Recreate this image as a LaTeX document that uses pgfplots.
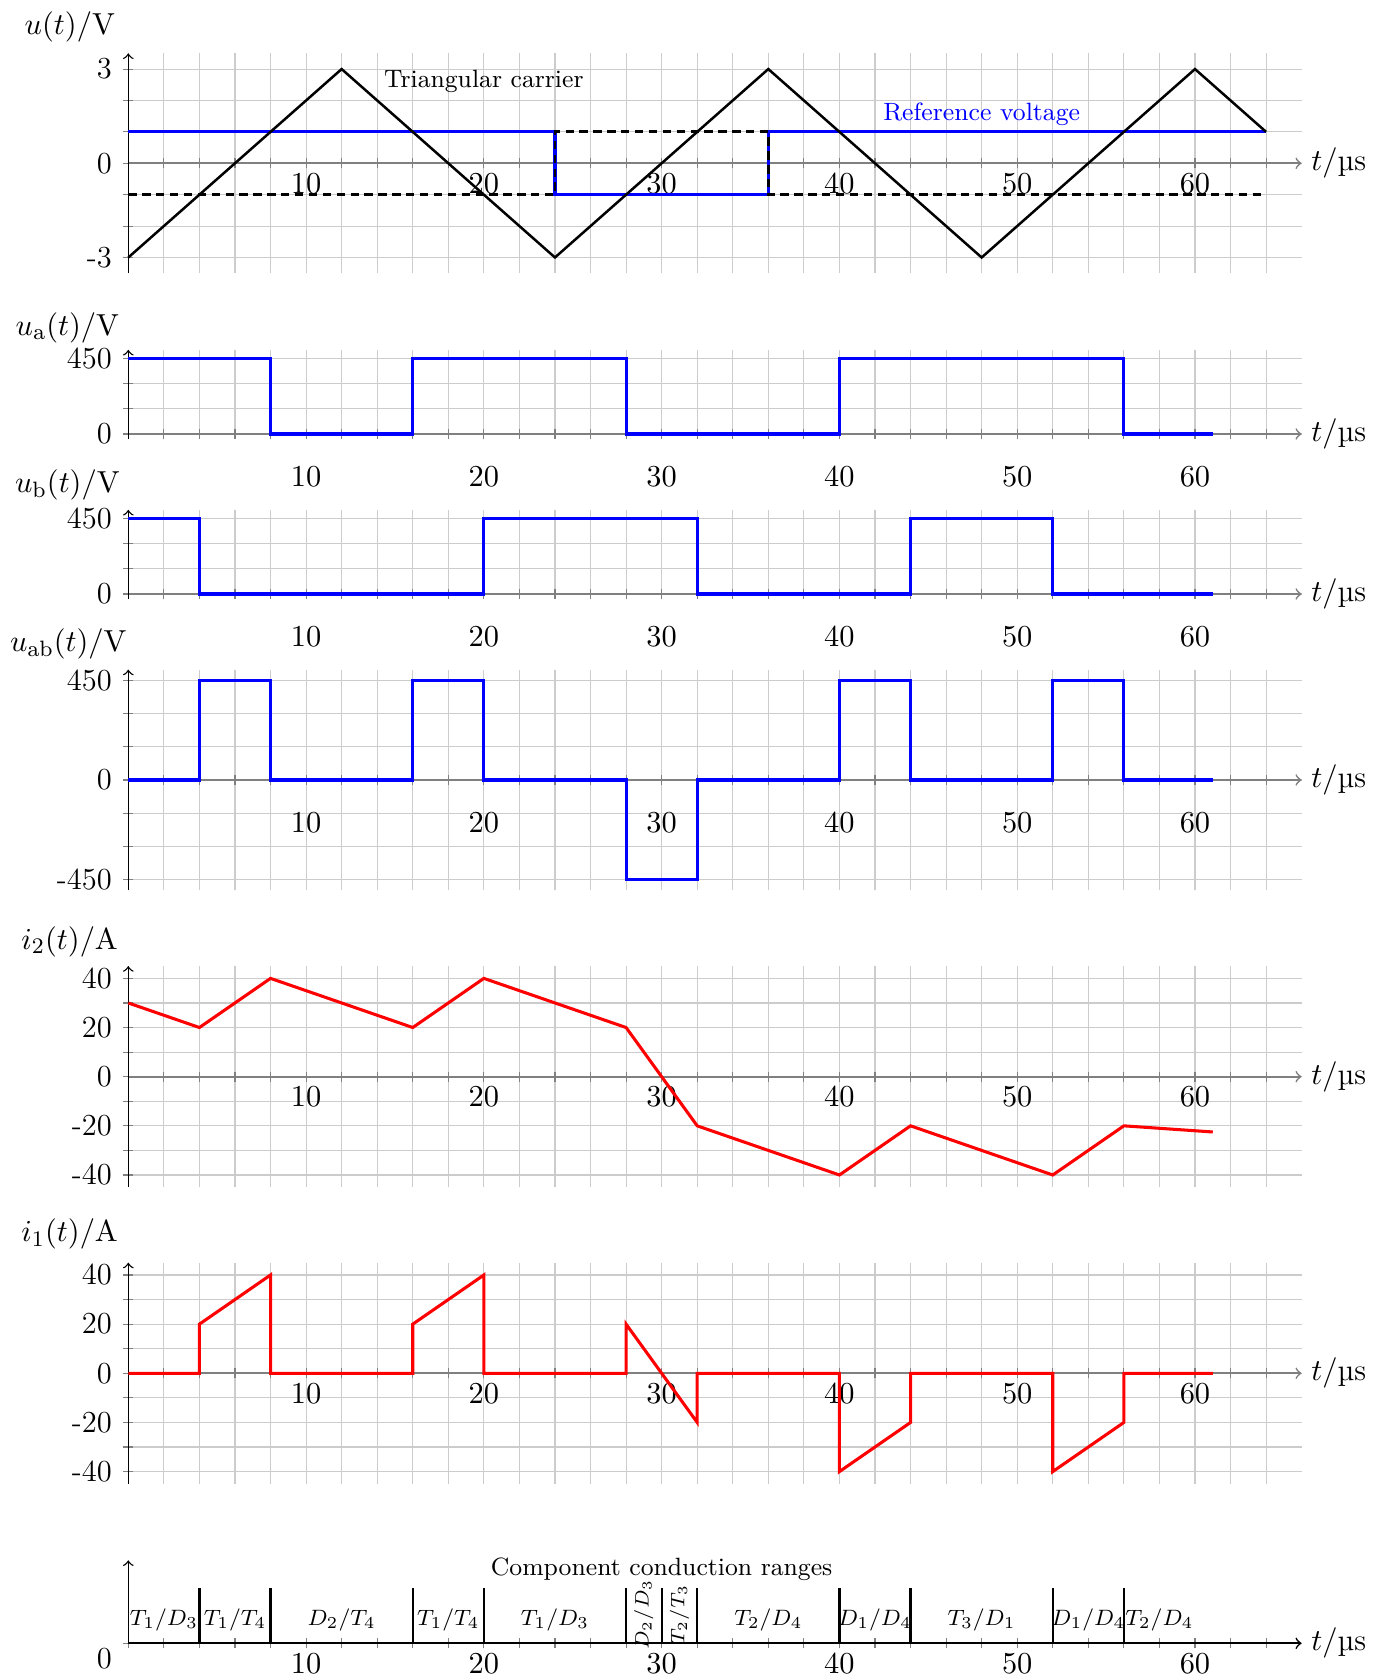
\documentclass[border=0pt]{standalone}
\usepackage{pgfplots}
\pgfplotsset{compat=1.18}
\newcommand{\tlfont}{\fontsize{11}{13}\selectfont}
\pgfplotsset{
  panel/.style={
    axis lines=middle,
    x=6.4pt,
    xmin=0, xmax=66,
    x axis line style={gray, line width=0.6pt, ->},
    y axis line style={black, line width=0.5pt, ->},
    xtick={10,20,...,60},
    minor xtick={0,2,...,64},
    hide obscured x ticks=false,
    hide obscured y ticks=false,
    tick align=center,
    major tick length=3.6pt, minor tick length=3.6pt,
    every tick/.style={gray, line width=0.4pt},
    every minor tick/.style={gray, line width=0.4pt},
    grid=both,
    major grid style={draw=none},
    minor grid style={gray!40, line width=0.4pt},
    ticklabel style={font=\tlfont},
    yticklabel style={anchor=east, xshift=-0.6pt},
    xlabel={$t/$µs},
    xlabel style={font=\tlfont, anchor=west},
    ylabel style={font=\tlfont, rotate=0, anchor=center},
    clip=false,
    anchor=origin,
  },
  labnear/.style={xticklabel style={anchor=center, yshift=-5.5pt}},
  labfar/.style={xticklabel style={anchor=center, yshift=-13.7pt}},
  sig/.style={line width=1.1pt, no marks},
}
\begin{document}
\begin{tikzpicture}
\useasboundingbox (0,0) rectangle (500.04pt,603.72pt);

% Panel 1: carrier and reference
\begin{axis}[panel, labnear, at={(46.19pt,544.93pt)},
  y=11.304pt, ymin=-3.5, ymax=3.5,
  ytick={-3,0,3}, minor ytick={-3,...,3}, yticklabels={-3,0,3},
  ylabel={$u(t)/\mathrm{V}$},
  ylabel style={at={(axis description cs:-0.0497,1.120)}},
  xlabel style={at={(axis description cs:1,0.5)}}]
\addplot[sig, blue] coordinates {(0,1) (24,1) (24,-1) (36,-1) (36,1) (64,1)};
\addplot[black, line width=1pt, dash pattern=on 3pt off 2pt, no marks] coordinates {(0,-1) (24,-1) (24,1) (36,1) (36,-1) (64,-1)};
\addplot[black, line width=0.9pt, no marks] coordinates {(0,-3) (12,3) (24,-3) (36,3) (48,-3) (60,3) (64,1)};
\node[font=\small] at (axis cs:20,2.6) {Triangular carrier};
\node[font=\small, blue] at (axis cs:48,1.55) {Reference voltage};
\end{axis}

% Panel 2: u_a
\begin{axis}[panel, labfar, at={(46.19pt,447.48pt)},
  y=0.060559pt, ymin=-30, ymax=500,
  ytick={0,450}, minor ytick={0,150,300,450}, yticklabels={0,450},
  ylabel={$u_{\mathrm{a}}(t)/\mathrm{V}$},
  ylabel style={at={(axis description cs:-0.0518,1.251)}},
  xlabel style={at={(axis description cs:1,0.0566)}}]
\addplot[sig, blue] coordinates {(0,450) (8,450) (8,0) (16,0) (16,450) (28,450) (28,0) (40,0) (40,450) (56,450) (56,0) (61,0)};
\end{axis}

% Panel 3: u_b
\begin{axis}[panel, labfar, at={(46.19pt,389.88pt)},
  y=0.060559pt, ymin=-30, ymax=500,
  ytick={0,450}, minor ytick={0,150,300,450}, yticklabels={0,450},
  ylabel={$u_{\mathrm{b}}(t)/\mathrm{V}$},
  ylabel style={at={(axis description cs:-0.0518,1.279)}},
  xlabel style={at={(axis description cs:1,0.0566)}}]
\addplot[sig, blue] coordinates {(0,450) (4,450) (4,0) (20,0) (20,450) (32,450) (32,0) (44,0) (44,450) (52,450) (52,0) (61,0)};
\end{axis}

% Panel 4: u_ab
\begin{axis}[panel, labfar, at={(46.19pt,322.92pt)},
  y=0.079441pt, ymin=-500, ymax=500,
  ytick={-450,0,450}, minor ytick={-450,-300,...,450}, yticklabels={-450,0,450},
  ylabel={$u_{\mathrm{ab}}(t)/\mathrm{V}$},
  ylabel style={at={(axis description cs:-0.051,1.1186)}},
  xlabel style={at={(axis description cs:1,0.5)}}]
\addplot[sig, blue] coordinates {(0,0) (4,0) (4,450) (8,450) (8,0) (16,0) (16,450) (20,450) (20,0) (28,0) (28,-450) (32,-450) (32,0) (40,0) (40,450) (44,450) (44,0) (52,0) (52,450) (56,450) (56,0) (61,0)};
\end{axis}

% Panel 5: i2
\begin{axis}[panel, labnear, at={(46.19pt,216.108pt)},
  y=0.8847pt, ymin=-45, ymax=45,
  ytick={-40,-20,...,40}, minor ytick={-40,-30,...,40}, yticklabels={-40,-20,0,20,40},
  ylabel={$i_2(t)/\mathrm{A}$},
  ylabel style={at={(axis description cs:-0.050,1.111)}},
  xlabel style={at={(axis description cs:1,0.5)}}]
\addplot[sig, red] coordinates {(0,30) (4,20) (8,40) (16,20) (20,40) (28,20) (32,-20) (40,-40) (44,-20) (52,-40) (56,-20) (61,-22.5)};
\end{axis}

% Panel 6: i1
\begin{axis}[panel, labnear, at={(46.19pt,109.332pt)},
  y=0.8847pt, ymin=-45, ymax=45,
  ytick={-40,-20,...,40}, minor ytick={-40,-30,...,40}, yticklabels={-40,-20,0,20,40},
  ylabel={$i_1(t)/\mathrm{A}$},
  ylabel style={at={(axis description cs:-0.050,1.13)}},
  xlabel style={at={(axis description cs:1,0.5)}}]
\addplot[sig, red] coordinates {(0,0) (4,0) (4,20) (8,40) (8,0) (16,0) (16,20) (20,40) (20,0) (28,0) (28,20) (32,-20) (32,0) (40,0) (40,-40) (44,-20) (44,0) (52,0) (52,-40) (56,-20) (56,0) (61,0)};
\end{axis}

% Panel 7: conduction ranges
\begin{axis}[panel, labnear, at={(46.19pt,12.132pt)},
  grid=none,
  x axis line style={black, line width=0.6pt, ->},
  y=19.908pt, ymin=0, ymax=1.5,
  ytick={0}, minor ytick={}, yticklabels={0},
  yticklabel style={yshift=-5.65pt},
  xlabel style={at={(axis description cs:1,0)}}]
\addplot[ycomb, black, line width=0.8pt, no marks] coordinates {(4,1) (8,1) (16,1) (20,1) (28,1) (30,1) (32,1) (40,1) (44,1) (52,1) (56,1)};
\node[font=\small] at (axis cs:30,1.34) {Component conduction ranges};
\begin{scope}[every node/.style={font=\fontsize{8.3}{10}\selectfont}]
\node at (axis cs:2,0.42) {$T_1/D_3$};
\node at (axis cs:6,0.42) {$T_1/T_4$};
\node at (axis cs:12,0.42) {$D_2/T_4$};
\node at (axis cs:18,0.42) {$T_1/T_4$};
\node at (axis cs:24,0.42) {$T_1/D_3$};
\node at (axis cs:36,0.42) {$T_2/D_4$};
\node at (axis cs:42,0.42) {$D_1/D_4$};
\node at (axis cs:48,0.42) {$T_3/D_1$};
\node at (axis cs:54,0.42) {$D_1/D_4$};
\node at (axis cs:58,0.42) {$T_2/D_4$};
\end{scope}
\begin{scope}[every node/.style={font=\fontsize{7}{8}\selectfont, rotate=90}]
\node at (axis cs:29,0.52) {$D_2/D_3$};
\node at (axis cs:31,0.52) {$T_2/T_3$};
\end{scope}
\end{axis}
\end{tikzpicture}
\end{document}
